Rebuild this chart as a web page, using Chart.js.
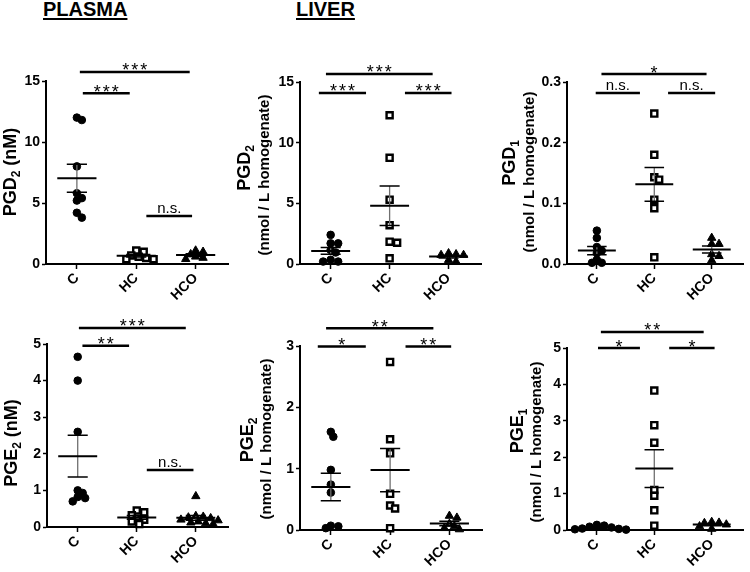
<!DOCTYPE html>
<html><head><meta charset="utf-8">
<script src="https://cdn.jsdelivr.net/npm/chart.js@4.4.0/dist/chart.umd.min.js"></script>
<style>
html,body{margin:0;padding:0;background:#fff;}
body{width:750px;height:572px;position:relative;overflow:hidden;font-family:"Liberation Sans",Arial,sans-serif;}
canvas{position:absolute;}
.hdr{position:absolute;top:-1px;font-weight:bold;font-size:20px;line-height:20px;text-decoration:underline;text-decoration-thickness:2px;text-underline-offset:2px;color:#000;}
</style></head><body>
<div class="hdr" style="left:43px">PLASMA</div>
<div class="hdr" style="left:296px">LIVER</div>
<canvas id="p4"></canvas><canvas id="p5"></canvas><canvas id="p6"></canvas>
<canvas id="p1"></canvas><canvas id="p2"></canvas><canvas id="p3"></canvas>
<script>
const groups = ['C', 'HC', 'HCO'];

// Plasma PGD2 (nM)
const plasmaPGD2_C   = [12.0, 11.8, 8.0, 5.8, 5.4, 5.2, 4.2, 3.8];
const plasmaPGD2_HC  = [1.1, 1.0, 0.7, 0.6, 0.5, 0.4, 0.4];
const plasmaPGD2_HCO = [1.1, 1.0, 0.8, 0.6, 0.5, 0.4];
const plasmaPGD2_ticks = ['0', '5', '10', '15'];
const plasmaPGD2_sig = [
  {from: 0.05, to: 1.90, y: 15.74, label: '***'},
  {from: 0.10, to: 0.89, y: 14.0,  label: '***'},
  {from: 1.17, to: 1.94, y: 3.93,  label: 'n.s.'}
];

// Liver PGD2 (nmol / L homogenate)
const liverPGD2_C   = [2.4, 1.7, 1.7, 1.15, 0.95, 0.35, 0.2, 0.2];
const liverPGD2_HC  = [12.26, 8.75, 5.3, 3.2, 1.84, 1.75, 0.47];
const liverPGD2_HCO = [0.88, 0.8, 0.74, 0.74, 0.33, 0.2];
const liverPGD2_ticks = ['0', '5', '10', '15'];
const liverPGD2_sig = [
  {from: -0.08, to: 1.73, y: 15.66, label: '***'},
  {from: -0.20, to: 0.60, y: 14.1,  label: '***'},
  {from: 1.26,  to: 2.05, y: 14.1,  label: '***'}
];

// Liver PGD1
const liverPGD1_C   = [0.055, 0.043, 0.028, 0.022, 0.018, 0.007, 0.002, 0.002];
const liverPGD1_HC  = [0.248, 0.180, 0.143, 0.139, 0.106, 0.092, 0.011];
const liverPGD1_HCO = [0.043, 0.033, 0.033, 0.016, 0.013, 0.006];
const liverPGD1_ticks = ['0.0', '0.1', '0.2', '0.3'];
const liverPGD1_sig = [
  {from: 0.08,  to: 1.91, y: 0.313, label: '*'},
  {from: -0.02, to: 0.75, y: 0.282, label: 'n.s.'},
  {from: 1.24,  to: 2.06, y: 0.282, label: 'n.s.'}
];

// Plasma PGE2 (nM)
const plasmaPGE2_C   = [4.65, 4.0, 2.6, 1.0, 0.93, 0.82, 0.79, 0.70];
const plasmaPGE2_HC  = [0.45, 0.4, 0.32, 0.22, 0.2, 0.15, 0.08];
const plasmaPGE2_HCO = [0.84, 0.3, 0.28, 0.26, 0.24, 0.2, 0.18, 0.15, 0.12, 0.1, 0.08];
const plasmaPGE2_ticks = ['0', '1', '2', '3', '4', '5'];
const plasmaPGE2_sig = [
  {from: 0.02, to: 1.83, y: 5.44, label: '***'},
  {from: 0.08, to: 0.87, y: 4.95, label: '**'},
  {from: 1.17, to: 1.96, y: 1.56, label: 'n.s.'}
];

// Liver PGE2
const liverPGE2_C   = [1.6, 1.52, 0.98, 0.74, 0.61, 0.07, 0.06, 0.03];
const liverPGE2_HC  = [2.74, 1.48, 1.25, 0.59, 0.4, 0.35, 0.03];
const liverPGE2_HCO = [0.23, 0.2, 0.1, 0.06, 0.03, 0.01];
const liverPGE2_ticks = ['0', '1', '2', '3'];
const liverPGE2_sig = [
  {from: -0.08, to: 1.73, y: 3.29, label: '**'},
  {from: -0.22, to: 0.59, y: 2.99, label: '*'},
  {from: 1.26,  to: 2.03, y: 2.99, label: '**'}
];

// Liver PGE1
const liverPGE1_C   = [0.14, 0.12, 0.09, 0.07, 0.04, 0.03, 0.02, 0.01];
const liverPGE1_HC  = [3.83, 2.88, 2.40, 1.10, 0.94, 0.54, 0.12];
const liverPGE1_HCO = [0.22, 0.2, 0.19, 0.15, 0.1, 0.03];
const liverPGE1_ticks = ['0', '1', '2', '3', '4', '5'];
const liverPGE1_sig = [
  {from: 0.07, to: 1.86, y: 5.44, label: '**'},
  {from: 0.02, to: 0.75, y: 5.0,  label: '*'},
  {from: 1.26, to: 2.05, y: 5.0,  label: '*'}
];

const UNIT_LIVER = '(nmol / L homogenate)';

const FONT = '"Liberation Sans", Arial, sans-serif';
const XMIN = -0.52, XMAX = 2.55;

const panels = [
  {id: 'p1', series: [plasmaPGD2_C, plasmaPGD2_HC, plasmaPGD2_HCO], ticks: plasmaPGD2_ticks, sig: plasmaPGD2_sig,
   titles: [{segs: [['PGD', 18, 0], ['2', 12, 4], [' (nM)', 18, 0]], x: 10, y: 172}],
   canvas: [0, 45, 235, 265], area: [46, 81, 230, 264]},
  {id: 'p2', series: [liverPGD2_C, liverPGD2_HC, liverPGD2_HCO], ticks: liverPGD2_ticks, sig: liverPGD2_sig,
   titles: [{segs: [['PGD', 18, 0], ['2', 12, 4]], x: 244, y: 168}, {segs: [[UNIT_LIVER, 15, 0]], x: 264, y: 175}],
   canvas: [232, 45, 263, 265], area: [300, 82, 481, 264]},
  {id: 'p3', series: [liverPGD1_C, liverPGD1_HC, liverPGD1_HCO], ticks: liverPGD1_ticks, sig: liverPGD1_sig,
   titles: [{segs: [['PGD', 18, 0], ['1', 12, 4]], x: 509, y: 163}, {segs: [[UNIT_LIVER, 15, 0]], x: 529, y: 172}],
   canvas: [495, 45, 255, 265], area: [567, 82, 748, 264]},
  {id: 'p4', series: [plasmaPGE2_C, plasmaPGE2_HC, plasmaPGE2_HCO], ticks: plasmaPGE2_ticks, sig: plasmaPGE2_sig,
   titles: [{segs: [['PGE', 18, 0], ['2', 12, 4], [' (nM)', 18, 0]], x: 11, y: 443}],
   canvas: [0, 300, 235, 272], area: [47, 344, 230, 527]},
  {id: 'p5', series: [liverPGE2_C, liverPGE2_HC, liverPGE2_HCO], ticks: liverPGE2_ticks, sig: liverPGE2_sig,
   titles: [{segs: [['PGE', 18, 0], ['2', 12, 4]], x: 247, y: 440}, {segs: [[UNIT_LIVER, 15, 0]], x: 266, y: 439}],
   canvas: [232, 300, 263, 272], area: [300, 346, 482, 530]},
  {id: 'p6', series: [liverPGE1_C, liverPGE1_HC, liverPGE1_HCO], ticks: liverPGE1_ticks, sig: liverPGE1_sig,
   titles: [{segs: [['PGE', 18, 0], ['1', 12, 4]], x: 517, y: 431}, {segs: [[UNIT_LIVER, 15, 0]], x: 536, y: 442}],
   canvas: [495, 300, 255, 272], area: [567, 348, 748, 530]}
];

// simple deterministic beeswarm (pixel offsets)
function swarm(vals, pxY) {
  const DIAM = 5.5, STEP = 2.5;
  const idx = vals.map((v, i) => i).sort((a, b) => vals[b] - vals[a]);
  const placed = [], out = new Array(vals.length).fill(0);
  idx.forEach(i => {
    const y = vals[i] * pxY;
    for (let k = 0; k < 400; k++) {
      const m = Math.ceil(k / 2) * STEP;
      const off = (k % 2 === 1) ? m : -m;
      if (placed.every(p => Math.hypot(p.x - off, p.y - y) >= DIAM)) {
        placed.push({x: off, y}); out[i] = off; break;
      }
    }
  });
  return out;
}

const markerStyles = [
  {pointStyle: 'circle', radius: 3.8, backgroundColor: '#000', borderColor: '#000', borderWidth: 1},
  {pointStyle: 'rect', radius: 4.3, backgroundColor: '#fff', borderColor: '#000', borderWidth: 2.4},
  {pointStyle: 'triangle', radius: 4.8, backgroundColor: '#000', borderColor: '#000', borderWidth: 1}
];

function makePanel(cfg) {
  const [cl, ct, cw, ch] = cfg.canvas;
  const [L, T, R, B] = cfg.area;
  const cv = document.getElementById(cfg.id);
  cv.width = cw; cv.height = ch;
  cv.style.left = cl + 'px'; cv.style.top = ct + 'px';
  cv.style.width = cw + 'px'; cv.style.height = ch + 'px';

  const yVals = cfg.ticks.map(parseFloat);
  const ymin = yVals[0], ymax = yVals[yVals.length - 1];
  const pxX = (R - L) / (XMAX - XMIN);
  const pxY = (B - T) / (ymax - ymin);
  const Y_W = 30, X_H = 40;

  const datasets = [];
  const meanSeg = [], capSeg = [], vertSeg = [];
  cfg.series.forEach((vals, gi) => {
    const offs = swarm(vals, pxY);
    const st = markerStyles[gi];
    datasets.push({
      label: groups[gi],
      data: vals.map((v, k) => ({x: gi + offs[k] / pxX, y: v})),
      pointStyle: st.pointStyle, pointRadius: st.radius,
      pointBackgroundColor: st.backgroundColor, pointBorderColor: st.borderColor,
      pointBorderWidth: st.borderWidth, showLine: false, clip: false, order: 2
    });
    const n = vals.length;
    const m = vals.reduce((a, b) => a + b, 0) / n;
    const sd = Math.sqrt(vals.reduce((a, b) => a + (b - m) * (b - m), 0) / (n - 1));
    const se = sd / Math.sqrt(n);
    meanSeg.push({x: gi - 0.33, y: m}, {x: gi + 0.33, y: m}, {x: gi, y: null});
    capSeg.push({x: gi - 0.17, y: m + se}, {x: gi + 0.17, y: m + se}, {x: gi, y: null},
                {x: gi - 0.17, y: m - se}, {x: gi + 0.17, y: m - se}, {x: gi, y: null});
    vertSeg.push({x: gi, y: m - se}, {x: gi, y: m + se}, {x: gi, y: null});
  });
  const lineBase = {showLine: true, pointRadius: 0, spanGaps: false, clip: false, fill: false};
  datasets.push(Object.assign({label: 'sem', data: vertSeg, borderColor: '#707070', borderWidth: 1.3, order: 1}, lineBase));
  datasets.push(Object.assign({label: 'caps', data: capSeg, borderColor: '#000', borderWidth: 1.5, order: 0}, lineBase));
  datasets.push(Object.assign({label: 'mean', data: meanSeg, borderColor: '#000', borderWidth: 2, order: 0}, lineBase));

  const annot = {
    id: 'annot_' + cfg.id,
    afterDraw(chart) {
      const ctx = chart.ctx, xs = chart.scales.x, ys = chart.scales.y;
      ctx.save();
      ctx.strokeStyle = '#000'; ctx.fillStyle = '#000';
      cfg.sig.forEach(s => {
        const x1 = xs.getPixelForValue(s.from), x2 = xs.getPixelForValue(s.to);
        const y = ys.getPixelForValue(s.y);
        ctx.lineWidth = 2.5; ctx.lineCap = 'butt';
        ctx.beginPath(); ctx.moveTo(x1, y); ctx.lineTo(x2, y); ctx.stroke();
        ctx.textAlign = 'center'; ctx.textBaseline = 'alphabetic';
        if (s.label === 'n.s.') {
          ctx.letterSpacing = '0px';
          ctx.font = '15px ' + FONT;
          ctx.fillText(s.label, (x1 + x2) / 2, y - 3);
        } else {
          ctx.letterSpacing = '2px';
          ctx.font = '18px ' + FONT;
          ctx.fillText(s.label, (x1 + x2) / 2 + 1, y + 4.5);
        }
      });
      ctx.letterSpacing = '0px';
      cfg.titles.forEach(t => {
        ctx.save();
        ctx.translate(t.x - cl, t.y - ct);
        ctx.rotate(-Math.PI / 2);
        ctx.textAlign = 'left'; ctx.textBaseline = 'alphabetic';
        let w = 0;
        t.segs.forEach(sg => { ctx.font = 'bold ' + sg[1] + 'px ' + FONT; w += ctx.measureText(sg[0]).width; });
        const main = t.segs[0][1];
        let x = -w / 2;
        const base = 0.358 * main;
        t.segs.forEach(sg => {
          ctx.font = 'bold ' + sg[1] + 'px ' + FONT;
          ctx.fillText(sg[0], x, base + sg[2]);
          x += ctx.measureText(sg[0]).width;
        });
        ctx.restore();
      });
      ctx.restore();
    }
  };

  const tickFont = {family: FONT, size: 14, weight: 'bold'};
  new Chart(cv, {
    type: 'scatter',
    data: {datasets},
    options: {
      responsive: false, animation: false, devicePixelRatio: 1,
      layout: {padding: {left: L - cl - Y_W, top: T - ct, right: cl + cw - R, bottom: ct + ch - B - X_H}},
      plugins: {legend: {display: false}, tooltip: {enabled: false}},
      scales: {
        x: {
          type: 'linear', min: XMIN, max: XMAX,
          afterBuildTicks: s => { s.ticks = groups.map((g, i) => ({value: i})); },
          afterFit: s => { s.height = X_H; },
          ticks: {autoSkip: false, minRotation: 45, maxRotation: 45, color: '#000', font: tickFont, padding: 1,
                  callback: (v, i) => groups[i]},
          grid: {drawOnChartArea: false, drawTicks: true, tickLength: 5, tickWidth: 1.5, tickColor: '#000'},
          border: {display: true, color: '#000', width: 2}
        },
        y: {
          type: 'linear', min: ymin, max: ymax,
          afterBuildTicks: s => { s.ticks = yVals.map(v => ({value: v})); },
          afterFit: s => { s.width = Y_W; },
          ticks: {color: '#000', font: tickFont, padding: 2, callback: (v, i) => cfg.ticks[i]},
          grid: {drawOnChartArea: false, drawTicks: true, tickLength: 4, tickWidth: 1.5, tickColor: '#000'},
          border: {display: true, color: '#000', width: 2}
        }
      }
    },
    plugins: [annot]
  });
}

panels.forEach(makePanel);
</script>
</body></html>
